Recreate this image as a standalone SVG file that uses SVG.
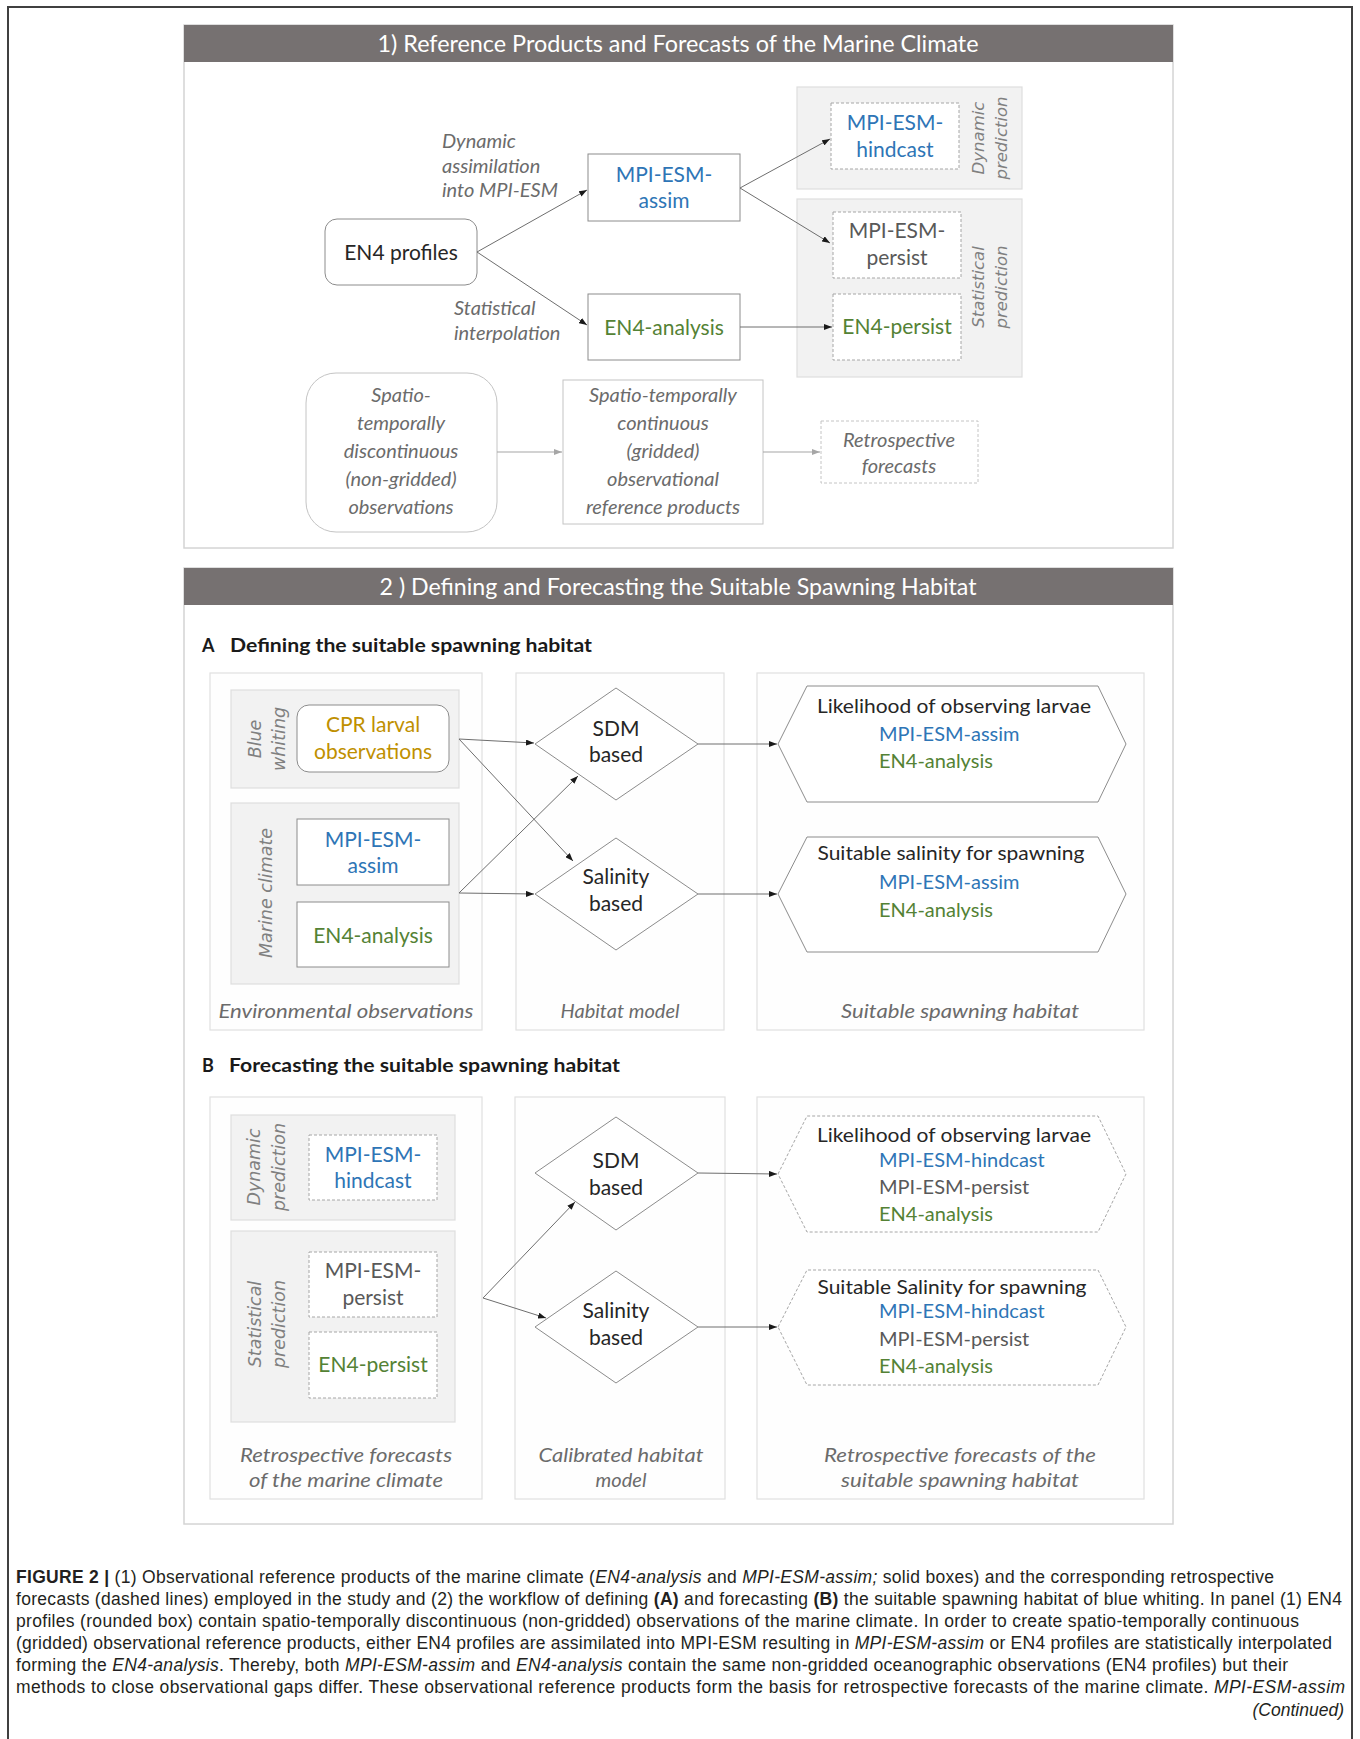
<svg xmlns="http://www.w3.org/2000/svg" width="1360" height="1739" viewBox="0 0 1360 1739">
<defs>
<style>
.lbl{font-family:Lato,"Open Sans","Liberation Sans",sans-serif;font-size:21px;text-anchor:middle}
.hx{font-family:Lato,"Open Sans","Liberation Sans",sans-serif;font-size:20px}
.it{font-family:Lato,"Open Sans","Liberation Sans",sans-serif;font-size:20px;font-style:italic;fill:#6b6b6b}
.rot{font-family:"DejaVu Sans",Verdana,sans-serif;font-style:italic;fill:#808080;text-anchor:middle}
.hdr{font-family:Lato,"Open Sans","Liberation Sans",sans-serif;font-size:23px;fill:#fff;text-anchor:middle}
.sub{font-family:Lato,"Open Sans","Liberation Sans",sans-serif;font-size:18px;font-weight:bold;fill:#1a1a1a}
.cap{font-family:"Liberation Sans",Arial,sans-serif;font-size:17.5px;fill:#231f20}
.blue{fill:#2e75b6}.green{fill:#548235}.gold{fill:#bf9000}.grey{fill:#595959}.dark{fill:#262626}
.panel{fill:#fff;stroke:#d4d4d4;stroke-width:1.5}
.hbar{fill:#767171}
.solid{fill:#fff;stroke:#8c8c8c;stroke-width:1}
.dash{fill:#fff;stroke:#a6a6a6;stroke-width:1;stroke-dasharray:3 2}
.grp{fill:#f2f2f2;stroke:#dedede;stroke-width:1.2}
.cont{fill:#fefefe;stroke:#e0e0e0;stroke-width:1.2}
.leg{fill:#fff;stroke:#c4c4c4;stroke-width:1}
.legd{fill:#fff;stroke:#c4c4c4;stroke-width:1;stroke-dasharray:3 2}
.con{fill:none;stroke:#6e6e6e;stroke-width:1;marker-end:url(#ah)}
.conl{fill:none;stroke:#a6a6a6;stroke-width:1.2;marker-end:url(#ahl)}
</style>
<marker id="ah" viewBox="0 0 8 6" refX="8" refY="3" markerWidth="8" markerHeight="6" markerUnits="userSpaceOnUse" orient="auto"><path d="M0,0 L8,3 L0,6 z" fill="#1a1a1a"/></marker>
<marker id="ahl" viewBox="0 0 8 6" refX="8" refY="3" markerWidth="8" markerHeight="6" markerUnits="userSpaceOnUse" orient="auto"><path d="M0,0 L8,3 L0,6 z" fill="#a6a6a6"/></marker>
</defs>
<rect width="1360" height="1739" fill="#fff"/>
<path d="M8,1739 V7 H1352 V1739" fill="none" stroke="#404040" stroke-width="2"/>

<!-- Panel 1 -->
<g id="panel1">
<rect class="panel" x="184" y="25" width="989" height="523"/>
<rect class="hbar" x="184" y="25" width="989" height="37"/>
<text class="hdr" x="678" y="52" textLength="601" lengthAdjust="spacingAndGlyphs">1) Reference Products and Forecasts of the Marine Climate</text>
</g>

<g id="en4-profiles">
<rect class="solid" x="325" y="219" width="152" height="66" rx="12" stroke="#7f7f7f"/>
<text class="lbl dark" x="401" y="260">EN4 profiles</text>
</g>
<g id="mpi-esm-assim-1">
<rect class="solid" x="588" y="154" width="152" height="67"/>
<text class="lbl blue" x="664" y="182">MPI-ESM-</text>
<text class="lbl blue" x="664" y="208">assim</text>
</g>
<g id="en4-analysis-1">
<rect class="solid" x="588" y="294" width="152" height="66"/>
<text class="lbl green" x="664" y="335">EN4-analysis</text>
</g>
<g id="dynamic-prediction-1">
<rect class="grp" x="797" y="87" width="225" height="102"/>
<rect class="dash" x="831" y="103" width="128" height="66"/>
<text class="lbl blue" x="895" y="130">MPI-ESM-</text>
<text class="lbl blue" x="895" y="157">hindcast</text>
<text class="rot" font-size="16.5" transform="translate(984,138) rotate(-90)">Dynamic</text>
<text class="rot" font-size="16.5" transform="translate(1007,138) rotate(-90)">prediction</text>
</g>
<g id="statistical-prediction-1">
<rect class="grp" x="797" y="199" width="225" height="178"/>
<rect class="dash" x="833" y="212" width="128" height="66"/>
<text class="lbl grey" x="897" y="238">MPI-ESM-</text>
<text class="lbl grey" x="897" y="265">persist</text>
<rect class="dash" x="833" y="294" width="128" height="66"/>
<text class="lbl green" x="897" y="334">EN4-persist</text>
<text class="rot" font-size="16.5" transform="translate(984,287) rotate(-90)">Statistical</text>
<text class="rot" font-size="16.5" transform="translate(1007,287) rotate(-90)">prediction</text>
</g>
<g id="labels-1">
<text class="it" x="442" y="148">Dynamic</text>
<text class="it" x="442" y="173">assimilation</text>
<text class="it" x="442" y="197">into MPI-ESM</text>
<text class="it" x="454" y="315">Statistical</text>
<text class="it" x="454" y="340">interpolation</text>
</g>
<g id="legend-nongridded">
<rect class="leg" x="306" y="373" width="191" height="159" rx="30"/>
<text class="it" text-anchor="middle" x="401" y="402">Spatio-</text>
<text class="it" text-anchor="middle" x="401" y="430">temporally</text>
<text class="it" text-anchor="middle" x="401" y="458">discontinuous</text>
<text class="it" text-anchor="middle" x="401" y="486">(non-gridded)</text>
<text class="it" text-anchor="middle" x="401" y="514">observations</text>
</g>
<g id="legend-gridded">
<rect class="leg" x="563" y="380" width="200" height="144"/>
<text class="it" text-anchor="middle" x="663" y="402">Spatio-temporally</text>
<text class="it" text-anchor="middle" x="663" y="430">continuous</text>
<text class="it" text-anchor="middle" x="663" y="458">(gridded)</text>
<text class="it" text-anchor="middle" x="663" y="486">observational</text>
<text class="it" text-anchor="middle" x="663" y="514">reference products</text>
</g>
<g id="legend-forecasts">
<rect class="legd" x="821" y="421" width="157" height="62"/>
<text class="it" text-anchor="middle" x="899" y="447">Retrospective</text>
<text class="it" text-anchor="middle" x="899" y="473">forecasts</text>
</g>

<!-- Panel 2 -->
<g id="panel2">
<rect class="panel" x="184" y="568" width="989" height="956"/>
<rect class="hbar" x="184" y="568" width="989" height="37"/>
<text class="hdr" x="678" y="595" textLength="597" lengthAdjust="spacingAndGlyphs">2 ) Defining and Forecasting the Suitable Spawning Habitat</text>
<text class="sub" x="202" y="652">A</text>
<text class="sub" x="230" y="652" textLength="362" lengthAdjust="spacingAndGlyphs">Defining the suitable spawning habitat</text>
<text class="sub" x="202" y="1072">B</text>
<text class="sub" x="229" y="1072" textLength="391" lengthAdjust="spacingAndGlyphs">Forecasting the suitable spawning habitat</text>
</g>

<g id="env-observations">
<rect class="cont" x="210" y="673" width="272" height="357"/>
<text class="it" text-anchor="middle" x="346" y="1018" textLength="255" lengthAdjust="spacingAndGlyphs">Environmental observations</text>
</g>
<g id="habitat-model">
<rect class="cont" x="516" y="673" width="208" height="357"/>
<text class="it" text-anchor="middle" x="620" y="1018">Habitat model</text>
</g>
<g id="suitable-habitat">
<rect class="cont" x="757" y="673" width="387" height="357"/>
<text class="it" text-anchor="middle" x="960" y="1018" textLength="238" lengthAdjust="spacingAndGlyphs">Suitable spawning habitat</text>
</g>
<g id="blue-whiting">
<rect class="grp" x="231" y="690" width="228" height="98"/>
<text class="rot" font-size="17.5" transform="translate(261,739) rotate(-90)">Blue</text>
<text class="rot" font-size="17.5" transform="translate(285,739) rotate(-90)">whiting</text>
</g>
<g id="cpr-larval">
<rect class="solid" x="297" y="705" width="152" height="67" rx="12"/>
<text class="lbl gold" x="373" y="732">CPR larval</text>
<text class="lbl gold" x="373" y="759">observations</text>
</g>
<g id="marine-climate">
<rect class="grp" x="231" y="803" width="228" height="181"/>
<text class="rot" font-size="17.5" transform="translate(272,893) rotate(-90)">Marine climate</text>
</g>
<g id="mpi-esm-assim-A">
<rect class="solid" x="297" y="819" width="152" height="66"/>
<text class="lbl blue" x="373" y="847">MPI-ESM-</text>
<text class="lbl blue" x="373" y="873">assim</text>
</g>
<g id="en4-analysis-A">
<rect class="solid" x="297" y="902" width="152" height="65"/>
<text class="lbl green" x="373" y="943">EN4-analysis</text>
</g>
<g id="sdm-A">
<polygon class="solid" points="616,688 698,744 616,800 535,744"/>
<text class="lbl dark" x="616" y="736">SDM</text>
<text class="lbl dark" x="616" y="762">based</text>
</g>
<g id="salinity-A">
<polygon class="solid" points="616,838 698,894 616,950 535,894"/>
<text class="lbl dark" x="616" y="884">Salinity</text>
<text class="lbl dark" x="616" y="911">based</text>
</g>
<g id="likelihood-A">
<polygon class="solid" points="778,744 807,686 1098,686 1126,744 1098,802 807,802"/>
<text class="hx dark" x="954" y="713" text-anchor="middle" textLength="274" lengthAdjust="spacingAndGlyphs">Likelihood of observing larvae</text>
<text class="hx blue" x="879" y="741">MPI-ESM-assim</text>
<text class="hx green" x="879" y="768">EN4-analysis</text>
</g>
<g id="salinity-habitat-A">
<polygon class="solid" points="778,894 807,837 1098,837 1126,894 1098,952 807,952"/>
<text class="hx dark" x="951" y="860" text-anchor="middle" textLength="267" lengthAdjust="spacingAndGlyphs">Suitable salinity for spawning</text>
<text class="hx blue" x="879" y="889">MPI-ESM-assim</text>
<text class="hx green" x="879" y="917">EN4-analysis</text>
</g>

<g id="retro-marine">
<rect class="cont" x="210" y="1097" width="272" height="402"/>
<text class="it" text-anchor="middle" x="346" y="1462" textLength="212" lengthAdjust="spacingAndGlyphs">Retrospective forecasts</text>
<text class="it" text-anchor="middle" x="346" y="1487" textLength="194" lengthAdjust="spacingAndGlyphs">of the marine climate</text>
</g>
<g id="calibrated-model">
<rect class="cont" x="515" y="1097" width="210" height="402"/>
<text class="it" text-anchor="middle" x="621" y="1462" textLength="165" lengthAdjust="spacingAndGlyphs">Calibrated habitat</text>
<text class="it" text-anchor="middle" x="621" y="1487">model</text>
</g>
<g id="retro-habitat">
<rect class="cont" x="757" y="1097" width="387" height="402"/>
<text class="it" text-anchor="middle" x="960" y="1462" textLength="272" lengthAdjust="spacingAndGlyphs">Retrospective forecasts of the</text>
<text class="it" text-anchor="middle" x="960" y="1487" textLength="238" lengthAdjust="spacingAndGlyphs">suitable spawning habitat</text>
</g>
<g id="dynamic-prediction-B">
<rect class="grp" x="231" y="1115" width="224" height="105"/>
<rect class="dash" x="309" y="1135" width="128" height="65"/>
<text class="lbl blue" x="373" y="1162">MPI-ESM-</text>
<text class="lbl blue" x="373" y="1188">hindcast</text>
<text class="rot" font-size="17.5" transform="translate(260,1167) rotate(-90)">Dynamic</text>
<text class="rot" font-size="17.5" transform="translate(285,1167) rotate(-90)">prediction</text>
</g>
<g id="statistical-prediction-B">
<rect class="grp" x="231" y="1231" width="224" height="191"/>
<rect class="dash" x="309" y="1252" width="128" height="65"/>
<text class="lbl grey" x="373" y="1278">MPI-ESM-</text>
<text class="lbl grey" x="373" y="1305">persist</text>
<rect class="dash" x="309" y="1332" width="128" height="66"/>
<text class="lbl green" x="373" y="1372">EN4-persist</text>
<text class="rot" font-size="17.5" transform="translate(261,1324) rotate(-90)">Statistical</text>
<text class="rot" font-size="17.5" transform="translate(285,1324) rotate(-90)">prediction</text>
</g>
<g id="sdm-B">
<polygon class="solid" points="616,1117 698,1173 616,1230 535,1173"/>
<text class="lbl dark" x="616" y="1168">SDM</text>
<text class="lbl dark" x="616" y="1195">based</text>
</g>
<g id="salinity-B">
<polygon class="solid" points="616,1271 698,1327 616,1383 535,1327"/>
<text class="lbl dark" x="616" y="1318">Salinity</text>
<text class="lbl dark" x="616" y="1345">based</text>
</g>
<g id="likelihood-B">
<polygon class="dash" points="778,1174 807,1116 1098,1116 1126,1174 1098,1232 807,1232"/>
<text class="hx dark" x="954" y="1142" text-anchor="middle" textLength="274" lengthAdjust="spacingAndGlyphs">Likelihood of observing larvae</text>
<text class="hx blue" x="879" y="1167">MPI-ESM-hindcast</text>
<text class="hx grey" x="879" y="1194">MPI-ESM-persist</text>
<text class="hx green" x="879" y="1221">EN4-analysis</text>
</g>
<g id="salinity-habitat-B">
<polygon class="dash" points="778,1327 807,1270 1098,1270 1126,1327 1098,1385 807,1385"/>
<text class="hx dark" x="952" y="1294" text-anchor="middle" textLength="269" lengthAdjust="spacingAndGlyphs">Suitable Salinity for spawning</text>
<text class="hx blue" x="879" y="1318">MPI-ESM-hindcast</text>
<text class="hx grey" x="879" y="1346">MPI-ESM-persist</text>
<text class="hx green" x="879" y="1373">EN4-analysis</text>
</g>

<g id="connectors">
<path class="con" d="M477,252 L587,190"/>
<path class="con" d="M477,252 L587,325"/>
<path class="con" d="M740,188 L830,139"/>
<path class="con" d="M740,188 L830,243"/>
<path class="con" d="M740,327 L832,327"/>
<path class="conl" d="M497,452 L562,452"/>
<path class="conl" d="M763,452 L820,452"/>
<path class="con" d="M459,739 L534,743"/>
<path class="con" d="M459,739 L573,861"/>
<path class="con" d="M459,893 L578,776"/>
<path class="con" d="M459,893 L534,894"/>
<path class="con" d="M698,744 L777,744"/>
<path class="con" d="M698,894 L777,894"/>
<path class="con" d="M483,1298 L575,1202"/>
<path class="con" d="M483,1298 L546,1318"/>
<path class="con" d="M698,1173 L777,1174"/>
<path class="con" d="M698,1327 L777,1327"/>
</g>

<g id="caption">
<text class="cap" x="16" y="1583" textLength="1258" lengthAdjust="spacing"><tspan font-weight="bold">FIGURE 2 |</tspan> (1) Observational reference products of the marine climate (<tspan font-style="italic">EN4-analysis</tspan> and <tspan font-style="italic">MPI-ESM-assim;</tspan> solid boxes) and the corresponding retrospective</text>
<text class="cap" x="16" y="1605" textLength="1326" lengthAdjust="spacing">forecasts (dashed lines) employed in the study and (2) the workflow of defining <tspan font-weight="bold">(A)</tspan> and forecasting <tspan font-weight="bold">(B)</tspan> the suitable spawning habitat of blue whiting. In panel (1) EN4</text>
<text class="cap" x="16" y="1627" textLength="1283" lengthAdjust="spacing">profiles (rounded box) contain spatio-temporally discontinuous (non-gridded) observations of the marine climate. In order to create spatio-temporally continuous</text>
<text class="cap" x="16" y="1649" textLength="1316" lengthAdjust="spacing">(gridded) observational reference products, either EN4 profiles are assimilated into MPI-ESM resulting in <tspan font-style="italic">MPI-ESM-assim</tspan> or EN4 profiles are statistically interpolated</text>
<text class="cap" x="16" y="1671" textLength="1272" lengthAdjust="spacing">forming the <tspan font-style="italic">EN4-analysis</tspan>. Thereby, both <tspan font-style="italic">MPI-ESM-assim</tspan> and <tspan font-style="italic">EN4-analysis</tspan> contain the same non-gridded oceanographic observations (EN4 profiles) but their</text>
<text class="cap" x="16" y="1693" textLength="1329" lengthAdjust="spacing">methods to close observational gaps differ. These observational reference products form the basis for retrospective forecasts of the marine climate. <tspan font-style="italic">MPI-ESM-assim</tspan></text>
<text class="cap" x="1344" y="1716" text-anchor="end" font-style="italic">(Continued)</text>
</g>
</svg>
